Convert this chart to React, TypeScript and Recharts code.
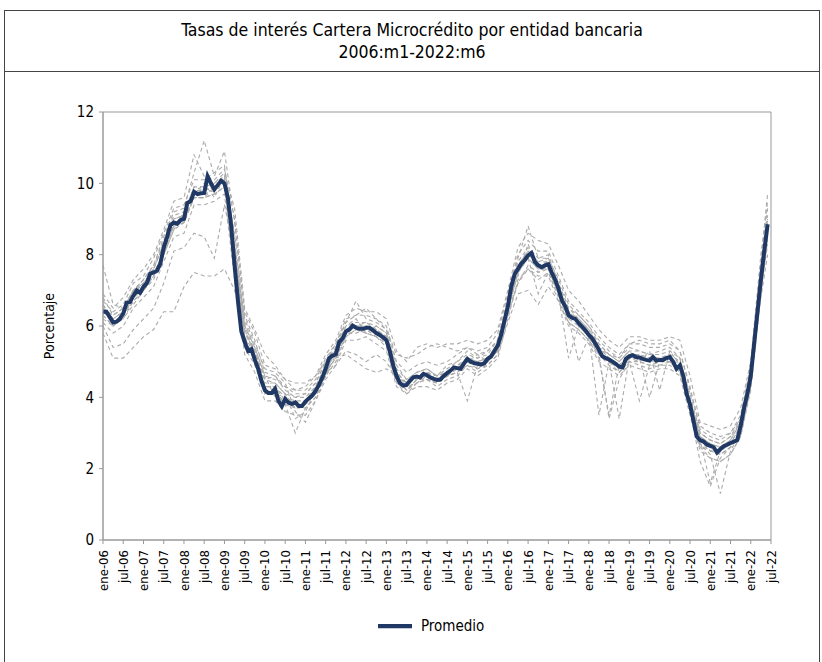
import React from 'react';
import { LineChart, Line, XAxis, YAxis, Legend, ReferenceArea, Label } from 'recharts';

const tickLabels = [
  'ene-06', 'jul-06', 'ene-07', 'jul-07', 'ene-08', 'jul-08', 'ene-09', 'jul-09',
  'ene-10', 'jul-10', 'ene-11', 'jul-11', 'ene-12', 'jul-12', 'ene-13', 'jul-13',
  'ene-14', 'jul-14', 'ene-15', 'jul-15', 'ene-16', 'jul-16', 'ene-17', 'jul-17',
  'ene-18', 'jul-18', 'ene-19', 'jul-19', 'ene-20', 'jul-20', 'ene-21', 'jul-21',
  'ene-22', 'jul-22',
];

const yTicks = [0, 2, 4, 6, 8, 10, 12];

// Promedio, monthly 2006:m1 - 2022:m6
const promedio = [
  6.4, 6.4, 6.25, 6.1, 6.12, 6.2, 6.35, 6.65, 6.67, 6.85, 7.0, 6.93,
  7.1, 7.2, 7.47, 7.5, 7.55, 7.75, 8.2, 8.5, 8.83, 8.9, 8.87, 8.97,
  9.0, 9.45, 9.5, 9.76, 9.7, 9.72, 9.73, 10.2, 10.0, 9.83, 9.95, 10.07,
  10.0, 9.6, 8.8, 7.7, 6.7, 5.85, 5.55, 5.3, 5.35, 5.05, 4.8, 4.45,
  4.2, 4.12, 4.12, 4.24, 3.9, 3.75, 3.95, 3.85, 3.82, 3.86, 3.76, 3.76,
  3.88, 3.97, 4.05, 4.18, 4.35, 4.55, 4.8, 5.1, 5.17, 5.2, 5.55, 5.65,
  5.85, 5.9, 6.01, 5.95, 5.92, 5.92, 5.95, 5.95, 5.88, 5.8, 5.75, 5.68,
  5.6, 5.3, 4.9, 4.6, 4.4, 4.33, 4.35, 4.47, 4.56, 4.58, 4.56, 4.66,
  4.62, 4.56, 4.52, 4.49, 4.5, 4.6, 4.68, 4.75, 4.84, 4.82, 4.8, 4.95,
  5.08, 5.0, 4.96, 4.94, 4.92, 4.95, 5.08, 5.14, 5.3, 5.45, 5.75, 6.15,
  6.55, 7.1, 7.45, 7.6, 7.75, 7.85, 7.98, 8.05, 7.8, 7.7, 7.65, 7.7,
  7.73, 7.5, 7.3, 7.05, 6.72, 6.55, 6.3, 6.23, 6.2, 6.08, 5.98, 5.88,
  5.75, 5.65, 5.5, 5.33, 5.15, 5.1, 5.06, 5.0, 4.94, 4.86, 4.84, 5.08,
  5.15, 5.18, 5.13, 5.12, 5.08, 5.05, 5.03, 5.13, 5.03, 5.05, 5.05, 5.1,
  5.13, 5.0, 4.8, 4.9, 4.6, 4.1, 3.8, 3.35, 2.9, 2.8, 2.76, 2.68,
  2.64, 2.6, 2.45, 2.55, 2.63, 2.67, 2.72, 2.76, 2.8, 3.2, 3.7, 4.1,
  4.6, 5.5, 6.4, 7.3, 8.1, 8.85,
];

// Individual banks, read every three months (last point = 2022:m6)
const banco1 = [
  6.7, 6.4, 6.6, 7.2, 7.4, 7.9, 8.6, 9.3, 9.4, 10.1,
  10.1, 10.3, 10.5, 8.4, 6.0, 5.4, 4.6, 4.5, 4.3, 4.2,
  4.2, 4.5, 5.1, 5.5, 6.2, 6.3, 6.3, 6.2, 6.0, 5.0,
  4.7, 4.9, 5.0, 4.9, 5.0, 5.2, 5.4, 5.3, 5.4, 5.8,
  6.9, 8.0, 8.4, 8.1, 8.1, 7.4, 6.7, 6.4, 6.1, 5.7,
  5.4, 5.2, 5.5, 5.5, 5.4, 5.4, 5.5, 5.3, 4.2, 3.2,
  3.0, 2.9, 3.0, 3.5, 4.9, 7.7, 9.3,
];
const banco2 = [
  6.1, 5.8, 6.0, 6.5, 6.8, 7.1, 7.8, 8.5, 8.6, 9.4,
  9.4, 9.5, 9.7, 7.3, 5.2, 4.7, 3.9, 3.9, 3.6, 3.5,
  3.5, 3.9, 4.5, 4.9, 5.6, 5.6, 5.7, 5.5, 5.3, 4.3,
  4.1, 4.3, 4.3, 4.2, 4.4, 4.5, 4.8, 4.6, 4.8, 5.1,
  6.2, 7.3, 7.6, 7.4, 7.4, 6.7, 6.0, 5.8, 5.5, 5.0,
  4.8, 4.6, 4.9, 4.8, 4.7, 4.8, 4.8, 4.6, 3.5, 2.5,
  2.3, 2.2, 2.4, 2.9, 4.2, 6.9, 8.4,
];
const banco3 = [
  7.7, 6.6, 6.5, 7.0, 7.3, 7.7, 8.5, 9.2, 9.3, 10.3,
  11.2, 10.2, 10.9, 8.9, 6.3, 5.6, 4.7, 4.6, 4.2, 4.0,
  4.1, 4.4, 5.0, 5.4, 6.1, 6.7, 6.2, 6.1, 5.9, 4.9,
  4.5, 4.7, 4.8, 4.6, 4.9, 5.0, 5.3, 5.1, 5.3, 5.6,
  6.8, 7.9, 8.8, 7.9, 8.0, 7.2, 6.5, 6.3, 6.0, 5.5,
  5.2, 5.1, 5.4, 5.3, 5.2, 5.3, 5.4, 5.1, 4.0, 3.0,
  2.8, 2.7, 2.9, 3.4, 4.8, 7.8, 9.7,
];
const banco4 = [
  5.8, 5.1, 5.1, 5.4, 5.7, 5.9, 6.4, 6.4, 7.1, 7.5,
  7.4, 7.4, 7.6, 7.0, 6.0, 5.3, 4.5, 4.4, 4.1, 3.7,
  3.9, 4.2, 4.7, 4.9, 5.3, 5.2, 5.0, 5.2, 5.0, 4.5,
  4.2, 4.4, 4.5, 4.3, 4.5, 4.6, 4.9, 4.7, 4.9, 5.2,
  6.4, 7.2, 7.6, 7.3, 7.5, 6.8, 6.1, 5.9, 5.6, 5.1,
  3.5, 4.9, 5.0, 5.0, 4.9, 5.0, 5.0, 4.8, 3.7, 2.6,
  2.5, 2.4, 2.6, 3.0, 4.4, 7.0, 8.6,
];
const banco5 = [
  6.0, 5.4, 5.5, 5.9, 6.2, 6.5, 7.2, 8.1, 8.2, 8.6,
  8.5, 7.9, 9.4, 8.0, 6.2, 5.5, 4.8, 4.7, 4.4, 3.6,
  3.3, 3.9, 4.6, 5.2, 5.9, 6.0, 6.1, 5.9, 5.6, 4.7,
  4.4, 4.6, 4.7, 4.5, 4.7, 4.8, 5.1, 5.0, 5.1, 5.5,
  6.6, 7.7, 7.9, 6.9, 7.5, 6.9, 5.1, 6.0, 5.7, 5.3,
  5.0, 4.7, 5.1, 5.1, 5.0, 5.0, 5.1, 4.8, 3.6, 2.2,
  1.5, 2.3, 2.6, 3.1, 4.5, 7.2, 8.7,
];
const banco6 = [
  6.9, 6.5, 6.8, 7.3, 7.6, 8.0, 8.7, 9.5, 9.6, 10.8,
  10.2, 10.1, 10.4, 9.0, 6.4, 5.8, 4.9, 4.8, 4.5, 4.4,
  4.4, 4.6, 5.2, 5.6, 6.3, 6.5, 6.4, 6.4, 6.2, 5.3,
  5.0, 5.4, 5.5, 5.4, 5.5, 5.5, 5.6, 5.5, 5.6, 5.9,
  7.0, 8.2, 8.6, 8.4, 8.3, 7.7, 7.0, 6.7, 6.3, 5.9,
  5.6, 5.4, 5.7, 5.7, 5.6, 5.6, 5.7, 5.6, 4.6, 3.3,
  3.2, 3.1, 3.2, 3.7, 5.0, 8.0, 9.5,
];
const banco7 = [
  6.3, 6.0, 6.2, 6.7, 7.0, 7.3, 8.0, 8.7, 8.9, 9.6,
  9.6, 9.9, 10.0, 7.9, 5.7, 5.0, 4.1, 4.2, 3.8, 3.0,
  3.7, 4.0, 4.7, 5.1, 5.8, 5.8, 5.9, 5.7, 5.5, 4.5,
  4.2, 4.5, 4.5, 4.4, 4.6, 4.7, 3.9, 4.9, 5.0, 5.3,
  6.4, 7.5, 7.9, 7.6, 7.6, 6.9, 6.2, 5.0, 5.7, 5.2,
  3.4, 4.5, 5.0, 3.9, 4.9, 4.9, 5.0, 4.7, 3.7, 2.7,
  2.4, 1.3, 2.5, 3.0, 4.4, 7.1, 8.5,
];
const banco8 = [
  6.5, 6.3, 6.5, 7.0, 7.3, 7.7, 8.4, 9.1, 9.2, 9.9,
  9.9, 10.0, 10.2, 8.0, 5.8, 5.3, 4.4, 4.4, 4.1, 4.0,
  4.0, 4.3, 4.9, 5.3, 6.0, 6.1, 6.1, 6.0, 5.8, 4.8,
  4.5, 4.7, 4.8, 4.6, 4.8, 5.0, 5.2, 5.1, 5.2, 5.6,
  6.7, 7.8, 8.2, 7.9, 7.9, 7.2, 6.5, 6.2, 5.9, 5.5,
  5.2, 5.0, 5.3, 5.3, 5.2, 5.2, 5.3, 5.1, 3.9, 2.9,
  2.7, 2.6, 2.8, 3.3, 4.7, 7.4, 9.0,
];
const banco9 = [
  6.6, 6.2, 6.4, 6.9, 7.2, 7.6, 8.3, 8.8, 9.1, 9.8,
  9.8, 10.0, 10.3, 9.3, 6.5, 5.9, 5.2, 4.9, 4.5, 4.2,
  4.3, 4.6, 5.0, 5.1, 5.2, 5.0, 4.8, 4.7, 4.8, 4.6,
  4.4, 4.5, 4.7, 4.6, 4.7, 4.9, 5.0, 4.9, 5.1, 5.3,
  6.3, 7.2, 7.7, 7.5, 7.6, 7.0, 6.4, 6.1, 5.8, 5.4,
  5.1, 4.9, 5.2, 5.2, 5.1, 5.1, 5.2, 5.0, 4.1, 3.0,
  2.8, 2.7, 2.9, 3.3, 4.5, 6.8, 8.0,
];
const banco10 = [
  6.2, 6.0, 6.3, 6.8, 7.1, 7.4, 8.1, 8.8, 8.9, 9.7,
  9.7, 9.8, 10.1, 8.1, 5.9, 5.2, 4.3, 4.3, 3.9, 3.7,
  3.8, 4.1, 4.8, 5.2, 5.8, 6.0, 6.0, 5.9, 5.7, 4.7,
  4.3, 4.6, 4.6, 4.5, 4.7, 4.8, 5.1, 5.0, 5.1, 5.4,
  6.5, 7.6, 8.0, 7.7, 7.8, 7.1, 6.3, 6.1, 5.8, 3.5,
  5.0, 3.4, 5.1, 5.1, 4.0, 5.0, 5.1, 4.9, 3.8, 2.8,
  1.6, 2.5, 2.7, 3.2, 4.6, 7.3, 8.8,
];
const banco11 = [
  6.8, 6.3, 6.5, 7.0, 7.2, 7.6, 8.3, 9.0, 9.1, 9.9,
  9.8, 9.9, 10.1, 8.2, 5.9, 5.2, 4.5, 4.6, 4.3, 4.1,
  4.1, 4.4, 5.0, 5.5, 6.1, 6.3, 6.5, 6.2, 5.9, 5.2,
  5.1, 5.2, 5.4, 5.5, 5.4, 5.3, 5.4, 5.2, 5.3, 5.6,
  6.6, 7.7, 8.1, 7.8, 7.9, 7.3, 6.6, 6.3, 6.0, 5.6,
  5.3, 5.1, 5.5, 5.6, 5.5, 5.5, 5.6, 5.3, 4.3, 3.1,
  2.9, 2.8, 3.0, 3.4, 4.7, 7.5, 9.1,
];
const banco12 = [
  6.4, 6.1, 6.3, 6.8, 7.0, 7.4, 8.0, 8.9, 9.0, 9.6,
  9.6, 9.7, 9.9, 7.6, 5.6, 5.1, 4.2, 4.1, 3.9, 3.7,
  3.7, 4.0, 4.6, 5.0, 5.7, 5.9, 5.8, 5.7, 5.4, 4.4,
  4.1, 4.4, 4.5, 4.4, 4.6, 4.7, 4.9, 4.8, 4.9, 5.2,
  6.1, 6.9, 7.0, 6.6, 7.1, 6.7, 6.1, 5.9, 5.6, 5.2,
  4.9, 4.7, 5.0, 4.9, 4.8, 4.9, 4.9, 4.7, 3.6, 2.6,
  2.3, 2.2, 2.4, 2.9, 4.3, 7.0, 8.3,
];
const banco13 = [
  6.5, 6.2, 6.4, 7.0, 7.2, 7.6, 8.3, 9.0, 9.1, 9.8,
  9.8, 9.9, 10.1, 7.9, 5.7, 5.2, 4.3, 4.3, 4.0, 3.9,
  3.9, 4.3, 4.9, 5.3, 5.9, 6.0, 6.0, 5.9, 5.7, 4.7,
  4.4, 4.6, 4.7, 4.6, 4.7, 4.9, 5.1, 5.0, 5.1, 5.5,
  6.6, 7.7, 8.1, 7.8, 7.8, 7.1, 6.4, 6.1, 5.8, 5.4,
  5.1, 4.9, 5.2, 5.2, 5.1, 5.1, 5.2, 5.0, 3.9, 2.9,
  2.7, 2.6, 2.8, 3.3, 4.7, 7.4, 8.9,
];
const banco14 = [
  6.3, 6.0, 6.3, 6.7, 7.0, 7.4, 8.1, 8.8, 8.9, 9.6,
  9.6, 9.7, 9.9, 7.5, 5.4, 4.9, 4.1, 4.1, 3.8, 3.7,
  3.8, 4.1, 4.7, 5.1, 5.7, 5.9, 5.8, 5.7, 5.5, 4.5,
  4.2, 4.5, 4.5, 4.4, 4.6, 4.7, 5.0, 4.8, 5.0, 5.3,
  6.4, 7.5, 7.9, 7.6, 7.6, 6.9, 6.2, 6.0, 5.7, 5.2,
  5.0, 4.8, 5.1, 5.0, 4.9, 5.0, 5.0, 4.8, 3.7, 2.7,
  2.5, 2.4, 2.6, 3.1, 4.5, 7.2, 8.7,
];
const banco15 = [
  6.6, 6.1, 6.2, 6.6, 7.0, 7.5, 8.0, 8.7, 9.2, 9.7,
  10.0, 9.6, 10.2, 8.6, 6.1, 5.4, 4.6, 4.0, 4.1, 3.4,
  3.6, 4.2, 4.6, 5.4, 6.0, 6.2, 5.8, 6.0, 5.8, 4.6,
  4.3, 4.4, 4.6, 4.5, 4.6, 4.8, 5.0, 5.2, 5.0, 5.4,
  6.7, 7.4, 8.3, 7.5, 7.7, 7.0, 6.4, 6.2, 5.9, 5.4,
  5.2, 5.0, 5.3, 5.0, 5.3, 4.2, 5.3, 4.9, 3.9, 2.8,
  2.5, 2.5, 2.7, 3.2, 4.6, 7.5, 9.0,
];

const bancos = [
  banco1, banco2, banco3, banco4, banco5, banco6, banco7, banco8,
  banco9, banco10, banco11, banco12, banco13, banco14, banco15,
];

const LAST = promedio.length - 1;
const data: any[] = promedio.map((v, i) => ({ t: i, promedio: v }));
bancos.forEach((serie, k) => {
  serie.forEach((v, q) => {
    const idx = q === serie.length - 1 ? LAST : q * 3;
    data[idx]['b' + k] = v;
  });
});

const xTicks = tickLabels.map((_, k) => k * 6);

const FONT = "'Liberation Sans Narrow', 'Arial Narrow', 'DejaVu Sans Condensed', 'Roboto Condensed', 'Liberation Sans', sans-serif";
const NAVY = '#1F3864';
const GRAY = '#ABABAB';

const XTick = (props: any) => {
  const { x, y, payload } = props;
  const label = tickLabels[Math.round(payload.value / 6)] ?? '';
  return (
    <text
      x={x}
      y={y + 4}
      transform={`rotate(-90, ${x}, ${y + 4})`}
      textAnchor="end"
      dy="0.35em"
      fontSize={13}
      fill="#000"
      fontFamily={FONT}
    >
      {label}
    </text>
  );
};

export default function App() {
  return (
    <div style={{ position: 'absolute', left: 0, top: 0, width: 822, height: 662, overflow: 'hidden', background: '#fff', fontFamily: FONT }}>
      <div style={{ position: 'absolute', left: 4, top: 10, width: 816, height: 700, boxSizing: 'border-box', borderLeft: '1.5px solid #444', borderRight: '1.5px solid #444', borderTop: '1.5px solid #444' }} />
      <div style={{ position: 'absolute', left: 4, top: 10, width: 816, height: 62, boxSizing: 'border-box', borderBottom: '1.5px solid #444', textAlign: 'center', fontSize: 17.5, lineHeight: '22px', paddingTop: 9, color: '#000' }}>
        <div>Tasas de interés Cartera Microcrédito por entidad bancaria</div>
        <div>2006:m1-2022:m6</div>
      </div>
      <div style={{ position: 'absolute', left: 0, top: 0 }}>
        <LineChart
          width={822}
          height={662}
          data={data}
          margin={{ top: 112, right: 51, left: 43, bottom: 19 }}
          style={{ fontFamily: FONT }}
        >
          <XAxis
            dataKey="t"
            type="number"
            domain={[0, 198]}
            ticks={xTicks}
            interval={0}
            tick={<XTick />}
            tickSize={4}
            tickMargin={2}
            height={69}
            axisLine={{ stroke: '#999' }}
            tickLine={{ stroke: '#999' }}
            allowDataOverflow
          />
          <YAxis
            type="number"
            domain={[0, 12]}
            ticks={yTicks}
            interval={0}
            width={60}
            tickSize={4}
            tickMargin={5}
            tick={{ fill: '#000', fontSize: 15, fontFamily: FONT }}
            axisLine={{ stroke: '#999' }}
            tickLine={{ stroke: '#999' }}
          >
            <Label
              content={(p: any) => {
                const vb = p.viewBox || { x: 43, y: 112, width: 60, height: 427 };
                const cx = vb.x + 6;
                const cy = vb.y + vb.height / 2;
                return (
                  <text x={cx} y={cy} transform={`rotate(-90, ${cx}, ${cy})`} textAnchor="middle" dy="0.35em" fontSize={14} fill="#000" fontFamily={FONT}>
                    Porcentaje
                  </text>
                );
              }}
            />
          </YAxis>
          <ReferenceArea x1={0} x2={198} y1={0} y2={12} fill="none" stroke="#999" strokeWidth={1} ifOverflow="visible" />
          {bancos.map((_, k) => (
            <Line
              key={k}
              dataKey={'b' + k}
              type="linear"
              stroke={GRAY}
              strokeWidth={1.1}
              strokeDasharray="4 3"
              dot={false}
              activeDot={false}
              connectNulls
              legendType="none"
              isAnimationActive={false}
            />
          ))}
          <Line
            dataKey="promedio"
            name="Promedio"
            type="linear"
            stroke={NAVY}
            strokeWidth={4}
            dot={false}
            activeDot={false}
            legendType="plainline"
            isAnimationActive={false}
          />
          <Legend
            verticalAlign="bottom"
            align="center"
            iconSize={34}
            wrapperStyle={{ fontSize: 15, fontFamily: FONT, left: 378, width: 'auto' }}
            formatter={(v: any) => <span style={{ color: '#000', marginLeft: 5 }}>{v}</span>}
          />
        </LineChart>
      </div>
    </div>
  );
}
